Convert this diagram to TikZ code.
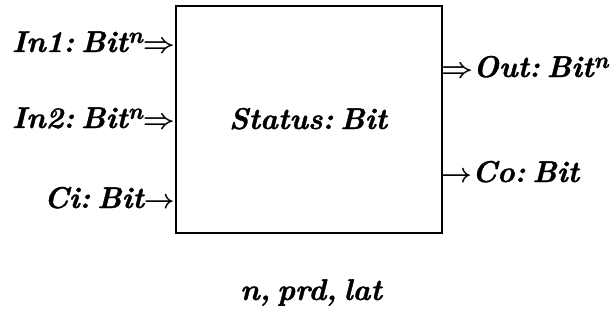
\documentclass[tikz,border=0pt]{standalone}
\usepackage{amsmath}
\usepackage{graphicx}
\usepackage{fontspec}
\newfontfamily\lblfont{lmroman10-bolditalic}[Extension=.otf, FakeBold=1.2]
\newcommand{\supn}{\raisebox{9pt}{\fontsize{23}{23}\selectfont n}}
\newcommand{\gap}{\hspace{7pt}}
\newcommand{\dar}{\scalebox{1.12}[1.1]{$\Rightarrow$}}
\newcommand{\sar}{\scalebox{1.08}[1.1]{$\rightarrow$}}
\begin{document}
\begin{tikzpicture}[x=1pt,y=-1pt,
  lbl/.style={inner sep=0pt, font=\fontsize{30}{36}\selectfont\boldmath\lblfont},
  blk/.style={draw, line width=1.8pt, inner sep=0pt, minimum width=266pt, minimum height=227pt}]
\useasboundingbox (0,0) rectangle (611,332);
\node[blk, anchor=north west] (box) at (175,5) {};
\node[lbl, anchor=base east] (in1) at (175,52) {In1:\gap Bit\supn\dar};
\node[lbl, anchor=base east] (in2) at (175,128) {In2:\gap Bit\supn\dar};
\node[lbl, anchor=base east] (ci) at (175,208) {Ci:\gap Bit\sar};
\node[lbl, anchor=base west] (out) at (441,77) {\dar Out:\gap Bit\supn};
\node[lbl, anchor=base west] (co) at (441,182) {\sar Co:\gap Bit};
\node[lbl, anchor=base] (st) at (308,129) {Status:\gap Bit};
\node[lbl, anchor=base] (par) at (311,300) {n,\gap prd,\gap lat};
\end{tikzpicture}
\end{document}
